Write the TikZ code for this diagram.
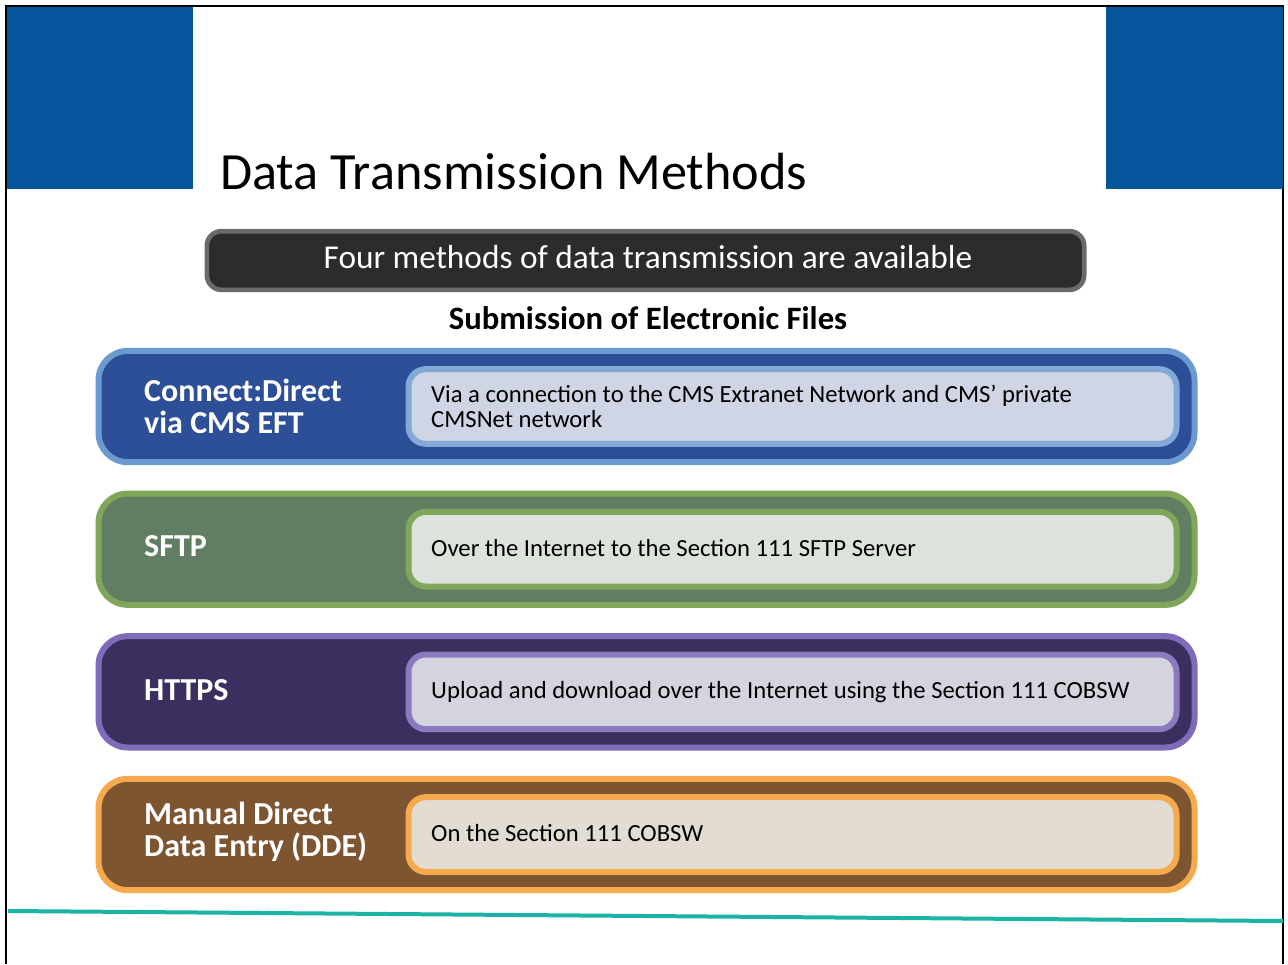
\documentclass[tikz,border=0pt]{standalone}
\usepackage{fontspec}
\setmainfont{Carlito}
\usetikzlibrary{positioning}
\definecolor{cmsblue}{HTML}{05559C}
\definecolor{banfill}{HTML}{2A2C2E}
\definecolor{banedge}{HTML}{6A6A6A}
\definecolor{blueedge}{HTML}{6C9AD0}
\definecolor{bluefill}{HTML}{2C4F97}
\definecolor{blueinner}{HTML}{CFD5E4}
\definecolor{greenedge}{HTML}{80A65C}
\definecolor{greenfill}{HTML}{627E62}
\definecolor{greeninner}{HTML}{DDE3DC}
\definecolor{purpleedge}{HTML}{7F6BB8}
\definecolor{purplefill}{HTML}{3B2F5F}
\definecolor{purpleinner}{HTML}{D4D4DE}
\definecolor{brownedge}{HTML}{F5AA4E}
\definecolor{brownfill}{HTML}{7D5631}
\definecolor{browninner}{HTML}{E3DCD3}
\definecolor{teal}{HTML}{1BB3A6}
\tikzset{
    x=0.75pt, y=-0.75pt, % one unit is one pixel of the slide, y runs down
    node distance=19pt,
    bar/.style={rounded corners=22pt, line width=4.5pt, inner sep=0pt,
        minimum width=822pt, minimum height=83.5pt}, % coloured band of one method
    inbox/.style={rounded corners=13pt, line width=4.5pt, inner sep=0pt,
        minimum width=576pt, minimum height=56pt}, % light box with the description
    lab/.style={anchor=west, align=left, text=white,
        font=\fontsize{24}{23.5}\selectfont\bfseries},
    desc/.style={anchor=west, align=left, text=black,
        font=\fontsize{18.5}{19}\selectfont},
}
\begin{document}
\begin{tikzpicture}
    \useasboundingbox (0,0) rectangle (1288,964);
    \fill[white] (0,0) rectangle (1288,964);
    % slide frame and corner blocks
    \draw[line width=1pt] (6,964) |- (1283,6) -- (1283,964);
    \fill[cmsblue] (7,7) rectangle (193,189);
    \fill[cmsblue] (1106,7) rectangle (1283,189);
    \node[anchor=base west, inner sep=0pt, font=\fontsize{39.2}{40}\selectfont] (title) at (220,189) {Data Transmission Methods};
    % banner
    \node[draw=banedge, fill=banfill, line width=3.5pt, rounded corners=11pt,
        minimum width=658pt, minimum height=44pt] (banner) at (645.5,260.5) {};
    \node[text=white, font=\fontsize{25}{26}\selectfont] (bantext) at (648,257) {Four methods of data transmission are available};
    \node[font=\fontsize{24.5}{25}\selectfont\bfseries] (subhead) at (648,318) {Submission of Electronic Files};
    % the four methods
    \node[bar, draw=blueedge, fill=bluefill] (b1) at (646.5,406.5) {};
    \node[bar, draw=greenedge, fill=greenfill, below=of b1] (b2) {};
    \node[bar, draw=purpleedge, fill=purplefill, below=of b2] (b3) {};
    \node[bar, draw=brownedge, fill=brownfill, below=of b3] (b4) {};
    \node[inbox, draw=blueedge!85!white, fill=blueinner, anchor=east] (d1) at ([xshift=-13.5pt]b1.east) {};
    \node[inbox, draw=greenedge, fill=greeninner, anchor=east] (d2) at ([xshift=-13.5pt]b2.east) {};
    \node[inbox, draw=purpleedge!90!white, fill=purpleinner, anchor=east] (d3) at ([xshift=-13.5pt]b3.east) {};
    \node[inbox, draw=brownedge, fill=browninner, anchor=east] (d4) at ([xshift=-13.5pt]b4.east) {};
    \node[lab] (l1) at ([xshift=33pt]b1.west) {Connect:Direct\\via CMS EFT};
    \node[lab] (l2) at ([xshift=33pt,yshift=2pt]b2.west) {SFTP};
    \node[lab] (l3) at ([xshift=33pt,yshift=1pt]b3.west) {HTTPS};
    \node[lab] (l4) at ([xshift=33pt,yshift=2pt]b4.west) {Manual Direct\\Data Entry (DDE)};
    \node[desc] (t1) at ([xshift=15.75pt]d1.west) {Via a connection to the CMS Extranet Network and CMS’ private\\CMSNet network};
    \node[desc] (t2) at ([xshift=15.75pt,yshift=1pt]d2.west) {Over the Internet to the Section 111 SFTP Server};
    \node[desc] (t3) at ([xshift=15.75pt]d3.west) {Upload and download over the Internet using the Section 111 COBSW};
    \node[desc] (t4) at ([xshift=15.75pt,yshift=1pt]d4.west) {On the Section 111 COBSW};
    % footer rule
    \coordinate (rulel) at (8,911);
    \coordinate (ruler) at (1283,921);
    \draw[teal, line width=3pt] (rulel) -- (ruler);
\end{tikzpicture}
\end{document}
